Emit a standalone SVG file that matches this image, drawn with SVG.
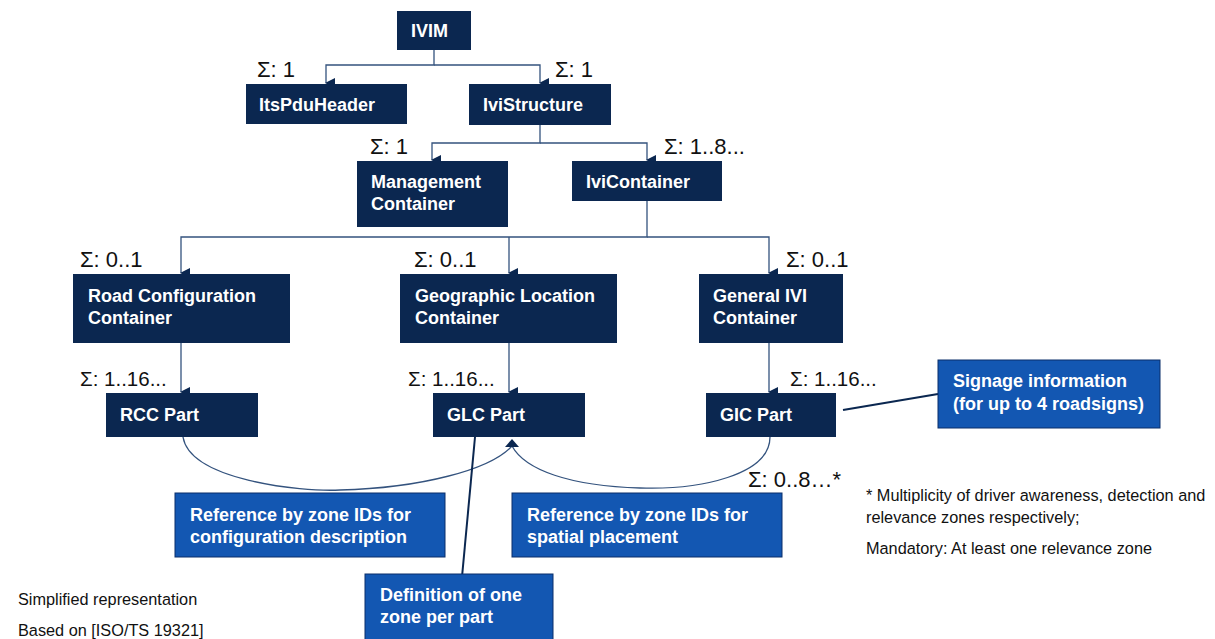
<svg xmlns="http://www.w3.org/2000/svg" width="1215" height="639" viewBox="0 0 1215 639">
<style>
.n{fill:#0b2750;}
.b{fill:#1357b2;stroke:#0b2f6a;stroke-width:1;}
.t{font-family:"Liberation Sans",Arial,sans-serif;font-weight:bold;font-size:18px;fill:#ffffff;}
.s{font-family:"Liberation Sans",Arial,sans-serif;font-size:22px;fill:#111111;}
.s2{font-family:"Liberation Sans",Arial,sans-serif;font-size:20.5px;fill:#111111;}
.f{font-family:"Liberation Sans",Arial,sans-serif;font-size:16.3px;fill:#111111;}
.c{fill:none;stroke:#34537e;stroke-width:1.3;}
.d{fill:none;stroke:#0b2750;stroke-width:2;}
</style>
<defs>
<marker id="a" markerWidth="10" markerHeight="10" refX="5" refY="9" orient="auto-start-reverse" markerUnits="userSpaceOnUse" viewBox="0 0 10 10">
<path d="M0,0 L10,0 L5,10 Z" fill="#0b2750"/>
</marker>
</defs>
<g id="connectors">
<path class="c" d="M434,49 V65 H326 V83" marker-end="url(#a)"/>
<path class="c" d="M434,65 H540 V83" marker-end="url(#a)"/>
<path class="c" d="M540,125 V143 H432 V160" marker-end="url(#a)"/>
<path class="c" d="M540,143 H647 V160" marker-end="url(#a)"/>
<path class="c" d="M647,201 V237 H181 V273" marker-end="url(#a)"/>
<path class="c" d="M509,237 V273" marker-end="url(#a)"/>
<path class="c" d="M647,237 H769 V273" marker-end="url(#a)"/>
<path class="c" d="M181,343 V392" marker-end="url(#a)"/>
<path class="c" d="M509,343 V392" marker-end="url(#a)"/>
<path class="c" d="M769,343 V392" marker-end="url(#a)"/>
<path class="c" d="M183,437 C190,480 300,492 340,490 C420,488 490,470 512,446"/>
<path class="c" d="M770,437 C770,475 700,490 640,488 C570,486 525,470 512,446"/>
<path d="M512,439 L519,447 L505,447 Z" fill="#0b2750"/>
<path class="d" d="M475,437 L462,577"/>
<path class="d" d="M843,410 L938,394"/>
</g>
<g id="IVIM"><rect class="n" x="397" y="11" width="74" height="39"/><text class="t" x="411" y="37">IVIM</text></g>
<g id="ItsPduHeader"><rect class="n" x="246" y="84" width="161" height="40"/><text class="t" x="259" y="111">ItsPduHeader</text></g>
<g id="IviStructure"><rect class="n" x="469" y="84" width="142" height="41"/><text class="t" x="483" y="111">IviStructure</text></g>
<g id="ManagementContainer"><rect class="n" x="357" y="161" width="151" height="66"/><text class="t" x="371" y="188">Management</text><text class="t" x="371" y="210">Container</text></g>
<g id="IviContainer"><rect class="n" x="572" y="161" width="150" height="40"/><text class="t" x="586" y="188">IviContainer</text></g>
<g id="RoadConfigurationContainer"><rect class="n" x="73" y="274" width="217" height="69"/><text class="t" x="88" y="302">Road Configuration</text><text class="t" x="88" y="324">Container</text></g>
<g id="GeographicLocationContainer"><rect class="n" x="400" y="274" width="217" height="69"/><text class="t" x="415" y="302">Geographic Location</text><text class="t" x="415" y="324">Container</text></g>
<g id="GeneralIVIContainer"><rect class="n" x="699" y="274" width="144" height="69"/><text class="t" x="713" y="302">General IVI</text><text class="t" x="713" y="324">Container</text></g>
<g id="RCCPart"><rect class="n" x="106" y="393" width="152" height="44"/><text class="t" x="120" y="421">RCC Part</text></g>
<g id="GLCPart"><rect class="n" x="433" y="393" width="152" height="44"/><text class="t" x="447" y="421">GLC Part</text></g>
<g id="GICPart"><rect class="n" x="706" y="393" width="130" height="44"/><text class="t" x="720" y="421">GIC Part</text></g>
<g id="Signage"><rect class="b" x="938" y="360" width="222" height="68"/><text class="t" x="953" y="387">Signage information</text><text class="t" x="953" y="410">(for up to 4 roadsigns)</text></g>
<g id="RefConfig"><rect class="b" x="175" y="493" width="270" height="64"/><text class="t" x="190" y="521">Reference by zone IDs for</text><text class="t" x="190" y="543">configuration description</text></g>
<g id="RefSpatial"><rect class="b" x="512" y="493" width="270" height="64"/><text class="t" x="527" y="521">Reference by zone IDs for</text><text class="t" x="527" y="543">spatial placement</text></g>
<g id="Definition"><rect class="b" x="365" y="574" width="188" height="70"/><text class="t" x="380" y="601">Definition of one</text><text class="t" x="380" y="623">zone per part</text></g>
<g id="labels">
<text class="s" x="257" y="77">Σ: 1</text>
<text class="s" x="555" y="77">Σ: 1</text>
<text class="s" x="370" y="154">Σ: 1</text>
<text class="s" x="664" y="154">Σ: 1..8...</text>
<text class="s" x="80" y="267">Σ: 0..1</text>
<text class="s" x="414" y="267">Σ: 0..1</text>
<text class="s" x="786" y="267">Σ: 0..1</text>
<text class="s2" x="80" y="386">Σ: 1..16...</text>
<text class="s2" x="408" y="386">Σ: 1..16...</text>
<text class="s2" x="790" y="386">Σ: 1..16...</text>
<text class="s" x="748" y="487">Σ: 0..8…*</text>
<text class="f" x="866" y="501">* Multiplicity of driver awareness, detection and</text>
<text class="f" x="866" y="523">relevance zones respectively;</text>
<text class="f" x="866" y="554">Mandatory: At least one relevance zone</text>
<text class="f" x="18" y="605">Simplified representation</text>
<text class="f" x="18" y="636">Based on [ISO/TS 19321]</text>
</g>
</svg>
